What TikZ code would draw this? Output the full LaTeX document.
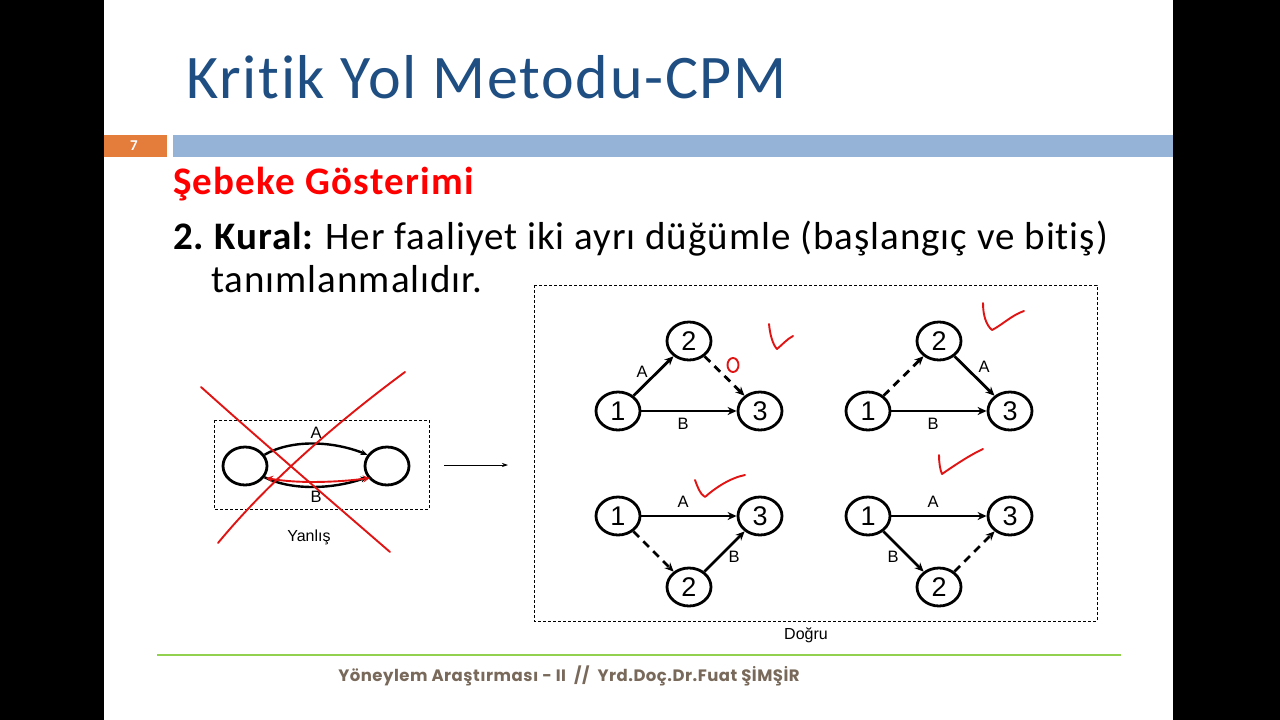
\documentclass[tikz,border=0pt]{standalone}
\usepackage{fontspec}
\setmainfont{Carlito}[Ligatures=NoCommon]
\newfontfamily\titlefont{Carlito}[Ligatures=NoCommon,LetterSpace=2.8]
\newfontfamily\bodyfont{Carlito}[Ligatures=NoCommon,LetterSpace=2.5]
\newfontfamily\subfont{Carlito}[Ligatures=NoCommon,LetterSpace=3.2]
\newfontfamily\labfont{Liberation Sans}
\newfontfamily\footfont{Poppins}[LetterSpace=3.0]
\usetikzlibrary{arrows.meta,shapes.geometric}
\definecolor{titleblue}{RGB}{31,78,130}
\definecolor{barblue}{RGB}{149,179,215}
\definecolor{barorange}{RGB}{228,124,60}
\definecolor{footgreen}{RGB}{146,208,80}
\definecolor{footbrown}{RGB}{120,105,90}
\definecolor{inkred}{RGB}{225,20,20}
\tikzset{
  ev/.style={ellipse,draw,line width=2.8pt,minimum width=44pt,minimum height=38pt,inner sep=0pt,font=\labfont\fontsize{27}{27}\selectfont},
  act/.style={line width=2.8pt,-{Stealth[length=9pt,width=8pt]}},
  dum/.style={act,dash pattern=on 8pt off 6pt},
  lab/.style={font=\labfont\fontsize{16.5}{16.5}\selectfont},
  ink/.style={inkred,line width=1.9pt,line cap=round,line join=round},
  frame/.style={draw,densely dashed,line width=0.6pt}
}
\begin{document}
\begin{tikzpicture}[x=1pt,y=-1pt]
\useasboundingbox (0,0) rectangle (1280,720);
\fill[black] (0,0) rectangle (1280,720);
\fill[white] (104,0) rectangle (1173,720);
% header
\node[anchor=west,text=titleblue,font=\titlefont\fontsize{62}{62}\selectfont,inner sep=0] (title) at (186,77) {Kritik Yol Metodu-CPM};
\fill[barorange] (104,135) rectangle (167,157);
\fill[barblue] (173,135) rectangle (1173,157);
\node[text=white,font=\bfseries\fontsize{15}{15}\selectfont] (pg) at (134,146) {7};
\node[anchor=west,text=red,font=\subfont\bfseries\fontsize{39}{39}\selectfont,inner sep=0] (sub) at (173,184) {Şebeke Gösterimi};
\node[anchor=base west,font=\bodyfont\fontsize{39}{39}\selectfont,inner sep=0] (r1) at (173,249) {\textbf{2.\hspace{-3pt} Kural:}\hspace{-2pt} Her faaliyet iki ayrı düğümle (başlangıç ve bitiş)};
\node[anchor=base west,font=\bodyfont\fontsize{39}{39}\selectfont,inner sep=0] (r2) at (211,292) {tanımlanmalıdır.};
% left diagram
\draw[frame] (214,420) rectangle (429,509);
\node[ev] (L1) at (245,466) {};
\node[ev] (L2) at (387,466) {};
\draw[line width=2.4pt,-{Stealth[length=7pt,width=6pt]}] (L1.30) .. controls (290,440) and (330,440) .. (L2.150);
\draw[line width=2.4pt,-{Stealth[length=7pt,width=6pt]}] (L1.-30) .. controls (290,490) and (330,490) .. (L2.-150);
\node[lab] (LA) at (316,433) {A};
\node[lab] (LB) at (316,497) {B};
\node[font=\labfont\fontsize{16}{16}\selectfont] (yan) at (309,537) {Yanlış};
\coordinate (ar1) at (444,465);
\coordinate (ar2) at (508,465);
\draw[line width=0.7pt,-{Stealth[length=6pt,width=4pt]}] (ar1) -- (ar2);
% red annotations left
\draw[ink] (201,387) .. controls (260,440) and (330,500) .. (390,552);
\draw[ink] (405,372) .. controls (340,420) and (270,480) .. (218,543);
\draw[ink,{Stealth[length=7pt,width=7pt]}-{Stealth[length=7pt,width=7pt]}] (266,478) .. controls (300,484) and (340,482) .. (370,478);
% right frame
\draw[frame] (534,285) rectangle (1097,621);
\node[font=\labfont\fontsize{16}{16}\selectfont] (dog) at (806,635) {Doğru};
% TL
\node[ev] (a1) at (618,411) {1};
\node[ev] (a2) at (689,341) {2};
\node[ev] (a3) at (760,411) {3};
\draw[act] (a1) -- (a2);
\draw[dum] (a2) -- (a3);
\draw[act] (a1) -- (a3);
\node[lab] (aA) at (642,372) {A};
\node[lab] (aB) at (683,424) {B};
% TR
\node[ev] (b1) at (868,411) {1};
\node[ev] (b2) at (939,341) {2};
\node[ev] (b3) at (1010,411) {3};
\draw[dum] (b1) -- (b2);
\draw[act] (b2) -- (b3);
\draw[act] (b1) -- (b3);
\node[lab] (bA) at (984,367) {A};
\node[lab] (bB) at (933,424) {B};
% BL
\node[ev] (c1) at (618,516) {1};
\node[ev] (c3) at (760,516) {3};
\node[ev] (c2) at (689,587) {2};
\draw[act] (c1) -- (c3);
\draw[dum] (c1) -- (c2);
\draw[act] (c2) -- (c3);
\node[lab] (cA) at (683,502) {A};
\node[lab] (cB) at (734,557) {B};
% BR
\node[ev] (d1) at (868,516) {1};
\node[ev] (d3) at (1010,516) {3};
\node[ev] (d2) at (939,587) {2};
\draw[act] (d1) -- (d3);
\draw[act] (d1) -- (d2);
\draw[dum] (d2) -- (d3);
\node[lab] (dA) at (933,502) {A};
\node[lab] (dB) at (893,557) {B};
% red ticks
\draw[ink] (733,365) ellipse (5.5pt and 7pt);
\draw[ink] (769,324) .. controls (770,335) and (773,345) .. (777,349) .. controls (782,345) and (787,339) .. (793,336);
\draw[ink] (983,303) .. controls (983,315) and (986,325) .. (992,330) .. controls (1002,325) and (1012,315) .. (1024,311);
\draw[ink] (695,480) .. controls (698,488) and (700,494) .. (705,497) .. controls (715,488) and (730,478) .. (745,475);
\draw[ink] (939,455) .. controls (939,462) and (940,470) .. (942,474) .. controls (955,465) and (970,455) .. (983,449);
% footer
\draw[footgreen,line width=1.5pt] (157,655) -- (1121,655);
\node[text=footbrown,font=\footfont\bfseries\fontsize{16.5}{16.5}\selectfont] (foot) at (569,676) {Yöneylem Araştırması - II \ //\ \ Yrd.Doç.Dr.Fuat ŞİMŞİR};
\end{tikzpicture}
\end{document}
